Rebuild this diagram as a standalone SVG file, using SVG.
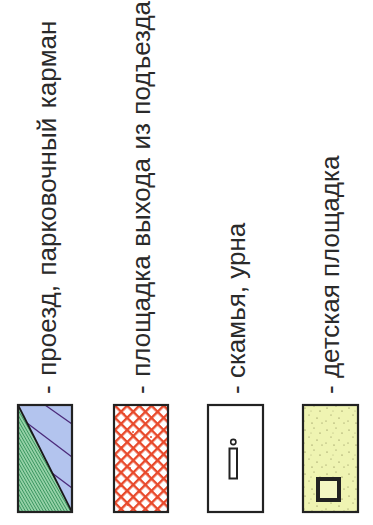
<svg xmlns="http://www.w3.org/2000/svg" width="373" height="525" viewBox="0 0 373 525">
<style>
.lbl{font-family:"Liberation Sans",Arial,sans-serif;font-size:26px;fill:#2a2a2a}
.frame{fill:none;stroke:#222;stroke-width:2.2}
</style>
<defs>
<pattern id="hatchGreen" width="2.6" height="10" patternUnits="userSpaceOnUse" patternTransform="rotate(-30)">
<rect width="2.6" height="10" fill="#98d3a9"/>
<rect width="0.9" height="10" fill="#3a9660"/>
</pattern>
<pattern id="lattice" width="8.6" height="8.6" patternUnits="userSpaceOnUse" patternTransform="translate(115,404) rotate(45)">
<rect width="8.6" height="8.6" fill="#fff"/>
<rect width="8.6" height="2.4" fill="#e8492b"/>
<rect width="2.4" height="8.6" fill="#e8492b"/>
</pattern>
<pattern id="speckle" width="22" height="22" patternUnits="userSpaceOnUse" patternTransform="translate(302,404)">
<rect width="22" height="22" fill="#eff4b2"/>
<g fill="#6b6b3a">
<circle cx="3" cy="4" r="0.6"/><circle cx="12" cy="2" r="0.5"/><circle cx="18" cy="7" r="0.6"/>
<circle cx="7" cy="11" r="0.5"/><circle cx="15" cy="14" r="0.6"/><circle cx="2" cy="17" r="0.5"/>
<circle cx="10" cy="19" r="0.6"/><circle cx="20" cy="19" r="0.5"/><circle cx="9" cy="7" r="0.4"/>
</g>
</pattern>
</defs>

<g id="item-road">
<rect x="18" y="405" width="54" height="107" fill="#b3c4ee"/>
<polygon points="18,405 72,512 18,512" fill="url(#hatchGreen)"/>
<g stroke="#4b2a7a" stroke-width="1.3" fill="none">
<line x1="45" y1="405" x2="72" y2="424"/>
<line x1="27" y1="423" x2="72" y2="457"/>
<line x1="52" y1="473" x2="72" y2="488"/>
</g>
<line x1="18" y1="405" x2="72" y2="512" stroke="#1a1a1a" stroke-width="1.8"/>
<rect class="frame" x="18" y="405" width="54" height="107"/>
<text class="lbl" transform="translate(56,394) rotate(-90)" word-spacing="2.4">- проезд, парковочный карман</text>
</g>

<g id="item-entrance">
<rect x="114" y="405" width="54" height="107" fill="url(#lattice)"/>
<g fill="#e8492b">
<circle cx="124" cy="414" r="1"/><circle cx="146" cy="419" r="1"/><circle cx="158" cy="412" r="1"/>
<circle cx="133" cy="432" r="1"/><circle cx="151" cy="437" r="1"/><circle cx="122" cy="447" r="1"/>
<circle cx="140" cy="452" r="1"/><circle cx="160" cy="458" r="1"/><circle cx="130" cy="468" r="1"/>
<circle cx="148" cy="474" r="1"/><circle cx="121" cy="486" r="1"/><circle cx="139" cy="492" r="1"/>
<circle cx="157" cy="498" r="1"/><circle cx="128" cy="505" r="1"/>
</g>
<rect class="frame" x="114" y="405" width="54" height="107"/>
<text class="lbl" transform="translate(150,394) rotate(-90)" word-spacing="1.3">- площадка выхода из подъезда</text>
</g>

<g id="item-bench">
<rect x="208" y="405" width="55" height="107" fill="#fff"/>
<circle cx="233.3" cy="442" r="2.6" fill="#fff" stroke="#222" stroke-width="1.6"/>
<rect x="229.5" y="448.5" width="7.5" height="30" fill="#fff" stroke="#222" stroke-width="2"/>
<rect class="frame" x="208" y="405" width="55" height="107"/>
<text class="lbl" transform="translate(245,394) rotate(-90)">- скамья, урна</text>
</g>

<g id="item-playground">
<rect x="303" y="405" width="55" height="107" fill="url(#speckle)"/>
<rect x="318" y="479" width="21" height="21" fill="#f4f7c4" stroke="#222" stroke-width="4"/>
<rect class="frame" x="303" y="405" width="55" height="107"/>
<text class="lbl" transform="translate(339,394) rotate(-90)">- детская площадка</text>
</g>
</svg>
